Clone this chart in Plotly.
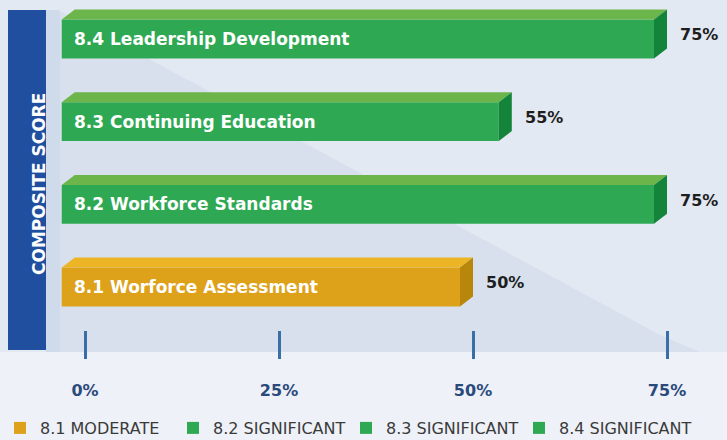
import plotly.graph_objects as go

# ---- data ----
categories = ["8.1 Worforce Assessment", "8.2 Workforce Standards",
              "8.3 Continuing Education", "8.4 Leadership Development"]
values = [50, 75, 55, 75]
legend_names = ["8.1 MODERATE", "8.2 SIGNIFICANT", "8.3 SIGNIFICANT", "8.4 SIGNIFICANT"]
tick_vals = [0, 25, 50, 75]
tick_text = ["0%", "25%", "50%", "75%"]
axis_title = "COMPOSITE SCORE"

# ---- style ----
W, H = 727, 440
front_cols = ["#dea11a", "#2ea852", "#2ea852", "#2ea852"]
top_cols = ["#ebb526", "#6bb54a", "#6bb54a", "#6bb54a"]
side_cols = ["#b9860c", "#15843b", "#15843b", "#15843b"]
BOLD = "DejaVu Sans"

x0_px, px_per_unit = 85, 7.76
x_range = [-x0_px / px_per_unit, (W - x0_px) / px_per_unit]
py_per_unit = 82.67
y_range = [-(H - 287) / py_per_unit, 3 + 39 / py_per_unit]

base = -3.0
bar_w = 0.47
dx = 13 / px_per_unit
dy = 10 / py_per_unit

def px(x, y):
    return x / W, 1 - y / H

fig = go.Figure()
shapes = []

def poly(points, color, layer="below"):
    d = "M " + " L ".join(f"{px(a,b)[0]},{px(a,b)[1]}" for a, b in points) + " Z"
    return dict(type="path", path=d, xref="paper", yref="paper", fillcolor=color,
                line=dict(width=0), layer=layer)

# background decoration
shapes.append(poly([(0, 0), (W, 0), (W, 352), (0, 352)], "#e3e9f2"))
shapes.append(poly([(46, 12), (62, 12), (660, 335), (700, 352), (46, 352)], "#d7e0ec"))
shapes.append(poly([(46, 10), (60, 10), (60, 352), (46, 352)], "#cfdaeb"))
shapes.append(poly([(8, 10), (46, 10), (46, 350), (8, 350)], "#1f4f9e"))

for i, (cat, v) in enumerate(zip(categories, values)):
    yc = i
    yt, yb = yc + bar_w / 2, yc - bar_w / 2
    fig.add_trace(go.Bar(
        y=[yc], x=[v - dx - base], base=[base], orientation="h", width=bar_w,
        marker=dict(color=front_cols[i], line=dict(width=0)),
        name=legend_names[i], hoverinfo="skip"))
    top = f"M {base},{yt} L {base+dx},{yt+dy} L {v},{yt+dy} L {v-dx},{yt} Z"
    side = f"M {v-dx},{yt} L {v},{yt+dy} L {v},{yb+dy} L {v-dx},{yb} Z"
    shapes.append(dict(type="path", path=top, xref="x", yref="y",
                       fillcolor=top_cols[i], line=dict(width=0)))
    shapes.append(dict(type="path", path=side, xref="x", yref="y",
                       fillcolor=side_cols[i], line=dict(width=0)))
    fig.add_annotation(x=base, y=yc, xref="x", yref="y", xanchor="left", xshift=10,
                       text=f"<b>{cat}</b>", showarrow=False,
                       font=dict(family=BOLD, size=17, color="white"))
    fig.add_annotation(x=v, y=yc + 0.05, xref="x", yref="y", xanchor="left", xshift=11,
                       text=f"<b>{v}%</b>", showarrow=False,
                       font=dict(family=BOLD, size=16, color="#1e1e1e"))

fig.add_annotation(x=px(27, 0)[0], y=px(0, 184)[1], xref="paper", yref="paper",
                   text=f"<b>{axis_title}</b>", textangle=-90, showarrow=False,
                   font=dict(family=BOLD, size=17, color="white"))

fig.update_layout(
    width=W, height=H, margin=dict(l=0, r=0, t=0, b=0, autoexpand=False),
    paper_bgcolor="#eef1f7", plot_bgcolor="rgba(0,0,0,0)",
    barmode="overlay", shapes=shapes,
    xaxis=dict(range=x_range, tickvals=tick_vals, ticktext=[f"<b>{t}</b>" for t in tick_text],
               showgrid=False, zeroline=False, showline=False, automargin=False,
               ticks="outside", ticklen=28, tickwidth=2.5, tickcolor="#3a6ea6",
               anchor="free", position=1 - 330 / H, ticklabelstandoff=18,
               tickfont=dict(family=BOLD, size=16, color="#2b4a7c")),
    yaxis=dict(range=y_range, visible=False),
    legend=dict(orientation="h", x=0, xanchor="left", y=1 - 428 / H, yanchor="middle",
                bgcolor="rgba(0,0,0,0)", traceorder="normal",
                entrywidth=128, entrywidthmode="pixels",
                font=dict(family="DejaVu Sans", size=16, color="#3a3a3a")),
    showlegend=True,
)
fig.write_html("out.html", post_script="document.body.style.margin='0';",
               config={"displayModeBar": False})
